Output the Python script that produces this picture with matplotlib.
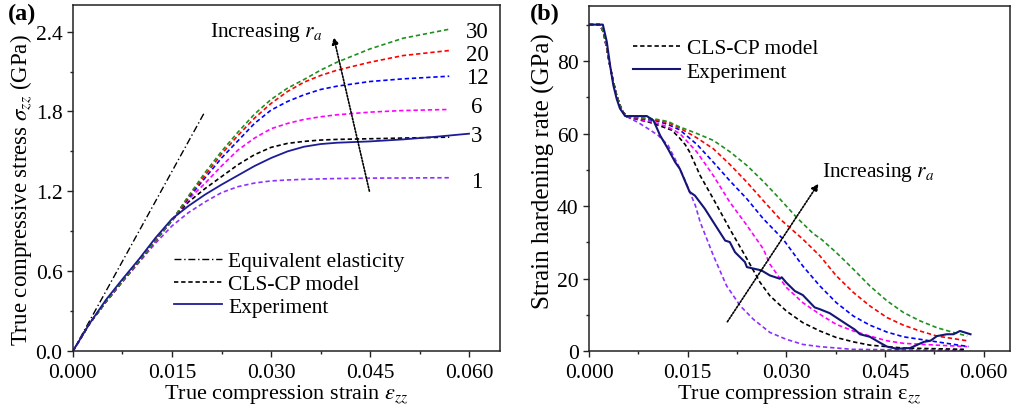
import matplotlib
matplotlib.use("Agg")
import matplotlib.pyplot as plt
from matplotlib.ticker import MultipleLocator, FormatStrFormatter

plt.rcParams["font.family"] = ["Liberation Serif", "DejaVu Serif"]
plt.rcParams["mathtext.fontset"] = "stix"

# ---------------- (a) stress-strain ----------------
ra_values = [1, 3, 6, 12, 20, 30]
ra_colors = ["#8f2fff", "#000000", "#ff00ff", "#0000ff", "#ff0000", "#1f8f1f"]

strain_a = [0, 0.0025, 0.005, 0.0075, 0.01, 0.0125, 0.015, 0.0175, 0.02, 0.0225,
            0.025, 0.0275, 0.03, 0.0325, 0.035, 0.0375, 0.04, 0.045, 0.05, 0.057]
stress_ra1 = [0, 0.205, 0.37, 0.52, 0.665, 0.81, 0.94, 1.04, 1.12, 1.19,
              1.235, 1.262, 1.278, 1.285, 1.29, 1.293, 1.296, 1.299, 1.30, 1.302]
stress_ra3 = [0, 0.205, 0.37, 0.525, 0.675, 0.83, 0.98, 1.12, 1.22, 1.31,
              1.40, 1.475, 1.53, 1.56, 1.575, 1.585, 1.59, 1.595, 1.60, 1.607]
stress_ra6 = [0, 0.205, 0.37, 0.525, 0.675, 0.83, 0.98, 1.14, 1.26, 1.39,
              1.51, 1.60, 1.67, 1.71, 1.74, 1.76, 1.775, 1.795, 1.807, 1.815]
stress_ra12 = [0, 0.205, 0.37, 0.525, 0.675, 0.83, 0.98, 1.15, 1.30, 1.45,
               1.58, 1.71, 1.81, 1.875, 1.925, 1.965, 1.99, 2.025, 2.045, 2.065]
stress_ra20 = [0, 0.205, 0.37, 0.525, 0.675, 0.83, 0.98, 1.16, 1.32, 1.48,
               1.62, 1.75, 1.86, 1.95, 2.02, 2.07, 2.11, 2.17, 2.22, 2.258]
stress_ra30 = [0, 0.205, 0.37, 0.525, 0.675, 0.83, 0.98, 1.165, 1.34, 1.50,
               1.645, 1.78, 1.89, 1.975, 2.04, 2.11, 2.17, 2.27, 2.35, 2.418]
stress_model = [stress_ra1, stress_ra3, stress_ra6, stress_ra12, stress_ra20, stress_ra30]

strain_exp_a = [0, 0.0025, 0.005, 0.0075, 0.01, 0.0125, 0.015, 0.0175, 0.02, 0.0225,
                0.025, 0.0275, 0.03, 0.0325, 0.035, 0.0375, 0.04, 0.0425, 0.045,
                0.05, 0.055, 0.06]
stress_exp = [0, 0.205, 0.385, 0.54, 0.69, 0.85, 0.993, 1.09, 1.175, 1.25,
              1.32, 1.39, 1.45, 1.50, 1.535, 1.555, 1.565, 1.57, 1.575,
              1.59, 1.61, 1.633]

elastic_modulus = 90.0          # GPa
elastic_strain = [0.0, 0.02]

# ---------------- (b) hardening rate ----------------
strain_b_start = [0, 0.0016, 0.0022, 0.0027, 0.0032, 0.0037, 0.0042, 0.0047, 0.0052, 0.0058]
rate_b_start = [90, 90, 88, 83.4, 78.5, 74.2, 70.5, 67.8, 65.8, 64.6]

strain_b_ra1 = [0.0075, 0.009, 0.0105, 0.012, 0.0135, 0.0145, 0.0153, 0.0162, 0.0169,
                0.0189, 0.0209, 0.023, 0.025, 0.0275, 0.030, 0.0325, 0.035, 0.040,
                0.045, 0.05, 0.057]
rate_b_ra1 = [63.0, 61.3, 59.5, 56.8, 51.5, 47.5, 44.0, 40.0, 35.6,
              26.4, 18.1, 12.5, 8.8, 5.2, 3.3, 1.9, 1.3, 0.55,
              0.45, 0.35, 0.3]
strain_b_ra3 = [0.0075, 0.009, 0.0105, 0.0126, 0.0138, 0.0146, 0.0153, 0.0169, 0.0189,
                0.0214, 0.024, 0.026, 0.0275, 0.030, 0.0325, 0.0351, 0.0376, 0.0402,
                0.0427, 0.0478, 0.057]
rate_b_ra3 = [63.8, 63.2, 62.3, 60.9, 58.7, 57.0, 54.9, 48.4, 42.0,
              33.7, 25.5, 19.0, 15.3, 11.1, 7.9, 5.6, 3.8, 2.6,
              1.7, 0.9, 0.55]
strain_b_ra6 = [0.0075, 0.01, 0.012, 0.0138, 0.0164, 0.0189, 0.0214, 0.024, 0.0265,
                0.0275, 0.030, 0.0325, 0.0351, 0.0376, 0.0402, 0.0427, 0.0453,
                0.0478, 0.0529, 0.0575]
rate_b_ra6 = [64.0, 63.0, 61.8, 60.0, 54.9, 48.4, 41.1, 34.7, 28.2,
              24.0, 17.6, 13.4, 10.2, 7.4, 5.6, 4.2, 2.9,
              2.2, 1.7, 1.3]
strain_b_ra12 = [0.0075, 0.01, 0.012, 0.0138, 0.0164, 0.0189, 0.0214, 0.024, 0.0265,
                 0.0295, 0.0325, 0.0351, 0.0376, 0.0402, 0.0427, 0.0453, 0.0478,
                 0.0529, 0.0577]
rate_b_ra12 = [64.2, 63.6, 62.5, 61.0, 57.0, 52.1, 47.0, 42.0, 36.5,
               30.9, 23.5, 18.0, 13.4, 9.7, 7.2, 5.3, 4.0,
               2.6, 1.3]
strain_b_ra20 = [0.0075, 0.01, 0.012, 0.0138, 0.0164, 0.0189, 0.0214, 0.024, 0.0265,
                 0.029, 0.0325, 0.0351, 0.0376, 0.0402, 0.0427, 0.0453, 0.0478,
                 0.0503, 0.0529, 0.0575]
rate_b_ra20 = [64.3, 63.8, 63.0, 61.5, 58.8, 55.8, 51.5, 46.6, 41.5,
               36.5, 30.9, 26.3, 20.8, 16.2, 12.5, 9.3, 7.2,
               5.6, 4.2, 2.9]
strain_b_ra30 = [0.0075, 0.01, 0.012, 0.0138, 0.0164, 0.0189, 0.0214, 0.024, 0.0265,
                 0.029, 0.0315, 0.0341, 0.0353, 0.0376, 0.0402, 0.0427, 0.0453,
                 0.0478, 0.0503, 0.0529, 0.0554, 0.0575]
rate_b_ra30 = [64.4, 64.0, 63.3, 61.8, 60.0, 58.1, 55.0, 51.2, 46.8,
               42.0, 37.0, 32.4, 30.9, 27.2, 22.6, 18.0, 13.9,
               10.7, 8.4, 6.5, 5.2, 4.2]
strain_b_model = [strain_b_ra1, strain_b_ra3, strain_b_ra6,
                  strain_b_ra12, strain_b_ra20, strain_b_ra30]
rate_b_model = [rate_b_ra1, rate_b_ra3, rate_b_ra6,
                rate_b_ra12, rate_b_ra20, rate_b_ra30]

strain_exp_b = [0, 0.0021, 0.0027, 0.0032, 0.0037, 0.0042, 0.0047, 0.0055, 0.0088,
                0.0098, 0.0108, 0.012, 0.0131, 0.0138, 0.0153, 0.0161, 0.0176,
                0.0189, 0.0207, 0.0214, 0.0222, 0.0237, 0.024, 0.0262, 0.0275,
                0.029, 0.0293, 0.030, 0.0313, 0.0325, 0.0343, 0.0351, 0.0366,
                0.0392, 0.0404, 0.0412, 0.0427, 0.0442, 0.0453, 0.0468, 0.0488,
                0.0498, 0.0509, 0.0519, 0.0529, 0.0544, 0.0554, 0.0564, 0.058]
rate_exp = [90, 90, 85.3, 78.8, 73.3, 69.6, 66.9, 64.8, 64.8,
            63.6, 59.5, 55.8, 52.1, 50.3, 43.9, 42.9, 39.3,
            35.6, 30.5, 30.1, 27.3, 24.6, 23.2, 22.3, 20.9,
            20.0, 20.4, 18.9, 16.6, 15.5, 12.1, 11.6, 10.5,
            7.4, 6.0, 4.7, 4.0, 2.4, 1.3, 0.7, 0.9,
            1.7, 2.6, 2.9, 4.2, 4.7, 4.7, 5.6, 4.7]

# ---------------- figure ----------------
fig = plt.figure(figsize=(10.11, 4.14), dpi=100)
ax_a = fig.add_axes([0.0722, 0.1498, 0.4224, 0.8357])
ax_b = fig.add_axes([0.5826, 0.1490, 0.4164, 0.8330])

dash = (0, (2.6, 1.7))
dashdot = (0, (5, 2, 1, 2))
tick_fs = 15.5
xlabel_fs = 16
text_fs = 15.5

# (a)
ax_a.plot(elastic_strain, [elastic_modulus * e for e in elastic_strain],
          color="black", lw=1.0, linestyle=dashdot)
for ys, c in zip(stress_model, ra_colors):
    ax_a.plot(strain_a, ys, color=c, lw=1.2, linestyle=dash)
ax_a.plot(strain_exp_a, stress_exp, color="#1c1c96", lw=1.3)

label_y = [1.274, 1.62, 1.834, 2.052, 2.227, 2.403]
for r, yl in zip(ra_values, label_y):
    ax_a.text(0.0612, yl, str(r), ha="center", va="center", fontsize=16.5)

ax_a.annotate("", xy=(0.0394, 2.378), xytext=(0.045, 1.181),
              arrowprops=dict(arrowstyle="-|>", color="black", lw=1.2,
                              linestyle=(0, (1, 1)), mutation_scale=10))
ax_a.text(0.0207, 2.40, r"Increasing $r_a$", fontsize=text_fs, ha="left", va="center")

h1, = ax_a.plot([], [], color="black", lw=1.0, linestyle=dashdot)
h2, = ax_a.plot([], [], color="black", lw=1.2, linestyle=dash)
h3, = ax_a.plot([], [], color="#1c1c96", lw=1.3)
ax_a.legend([h1, h2, h3], ["Equivalent elasticity", "CLS-CP model", "Experiment"],
            loc="upper left", bbox_to_anchor=(0.237, 0.288), frameon=False,
            fontsize=text_fs, handlelength=2.2, handletextpad=0.3,
            labelspacing=0.12, borderpad=0, borderaxespad=0)

ax_a.set_xlim(0, 0.0647)
ax_a.set_ylim(0, 2.6)
ax_a.xaxis.set_major_locator(MultipleLocator(0.015))
ax_a.xaxis.set_minor_locator(MultipleLocator(0.0075))
ax_a.yaxis.set_major_locator(MultipleLocator(0.6))
ax_a.yaxis.set_minor_locator(MultipleLocator(0.3))
ax_a.xaxis.set_major_formatter(FormatStrFormatter("%.3f"))
ax_a.yaxis.set_major_formatter(FormatStrFormatter("%.1f"))
ax_a.set_xlabel(r"True compression strain $\varepsilon_{zz}$", fontsize=xlabel_fs, labelpad=0)
ax_a.set_ylabel(r"True compressive stress $\sigma_{zz}$ (GPa)", fontsize=16.5, labelpad=1)
ax_a.yaxis.label.set_y(0.468)

# (b)
for xs, ys, c in zip(strain_b_model, rate_b_model, ra_colors):
    ax_b.plot(strain_b_start + xs, rate_b_start + ys, color=c, lw=1.2, linestyle=dash)
ax_b.plot(strain_exp_b, rate_exp, color="#151575", lw=1.5)

ax_b.annotate("", xy=(0.0351, 46.8), xytext=(0.0208, 7.5),
              arrowprops=dict(arrowstyle="-|>", color="black", lw=1.2,
                              linestyle=(0, (1, 1)), mutation_scale=10))
ax_b.text(0.0354, 49.4, r"Increasing $r_a$", fontsize=text_fs, ha="left", va="center")

g1, = ax_b.plot([], [], color="black", lw=1.2, linestyle=dash)
g2, = ax_b.plot([], [], color="#151575", lw=1.5)
ax_b.legend([g1, g2], ["CLS-CP model", "Experiment"],
            loc="upper left", bbox_to_anchor=(0.104, 0.908), frameon=False,
            fontsize=text_fs, handlelength=2.2, handletextpad=0.3,
            labelspacing=0.15, borderpad=0, borderaxespad=0)

ax_b.set_xlim(0, 0.064)
ax_b.set_ylim(0, 95)
ax_b.xaxis.set_major_locator(MultipleLocator(0.015))
ax_b.xaxis.set_minor_locator(MultipleLocator(0.0075))
ax_b.yaxis.set_major_locator(MultipleLocator(20))
ax_b.yaxis.set_minor_locator(MultipleLocator(10))
ax_b.xaxis.set_major_formatter(FormatStrFormatter("%.3f"))
ax_b.set_xlabel(r"True compression strain ε$_{zz}$", fontsize=xlabel_fs, labelpad=0)
ax_b.set_ylabel("Strain hardening rate (GPa)", fontsize=18, labelpad=1)
ax_b.yaxis.label.set_y(0.525)

for ax in (ax_a, ax_b):
    for s in ax.spines.values():
        s.set_linewidth(1.1)
        s.set_color("#222222")
    ax.tick_params(which="major", direction="out", length=4.5, width=1.0,
                   labelsize=tick_fs, colors="#222222", labelcolor="black")
    ax.tick_params(which="minor", direction="out", length=2.5, width=1.0, colors="#222222")
    ax.tick_params(axis="x", which="major", pad=4)
    ax.tick_params(axis="y", which="major", pad=3)

fig.text(0.008, 0.966, "(a)", fontsize=17.5, fontweight="bold", ha="left", va="center")
fig.text(0.524, 0.965, "(b)", fontsize=17.5, fontweight="bold", ha="left", va="center")

fig.savefig("out.png", dpi=100)
